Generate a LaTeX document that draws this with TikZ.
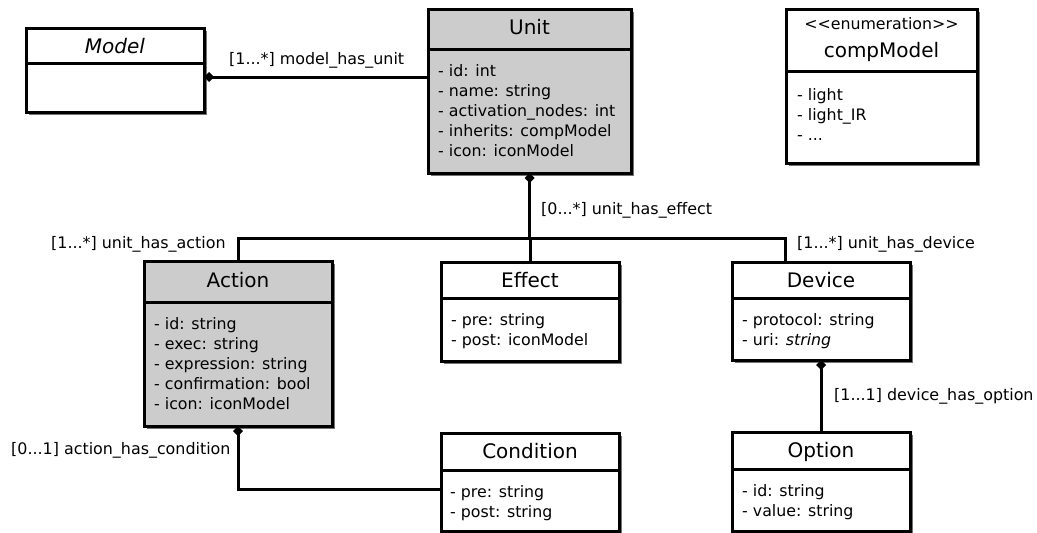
\documentclass[tikz,border=0pt]{standalone}
\usepackage{fontspec}
\setmainfont{DejaVu Sans}
\usetikzlibrary{arrows.meta,shadows,calc}
\newcommand{\attrsize}{\fontsize{15.8}{20}\selectfont}
\newcommand{\lblsize}{\fontsize{15.9}{20}\selectfont}
\newcommand{\titlesize}{\fontsize{20}{24}\selectfont}
\newcommand{\stereosize}{\fontsize{15.8}{18}\selectfont}
% #1 name, #2 x1, #3 y1, #4 x2, #5 y2, #6 separator y, #7 fill
\newcommand{\umlclass}[7]{%
  \node[classbox, fill=#7, minimum width={#4-#2}, minimum height={#5-#3}, anchor=north west] (#1) at (#2,#3) {};
  \draw[boxline] (#2,#6) -- (#4,#6);
}
\tikzset{
  classbox/.style={draw=black, line width=3pt, inner sep=0pt, outer sep=0pt,
    drop shadow={shadow xshift=3pt, shadow yshift=-3pt, fill=black!55, opacity=1}},
  boxline/.style={line width=3pt},
  titletext/.style={font=\titlesize, anchor=base, inner sep=0pt},
  stereotext/.style={font=\stereosize, anchor=base, inner sep=0pt},
  attrtext/.style={font=\attrsize, anchor=north west, align=left, inner sep=0pt},
  conn/.style={line width=3pt},
  comp/.style={{Diamond[length=10pt,width=10pt,line width=0pt]}-},
  lbl/.style={font=\lblsize, anchor=base west, inner sep=0pt},
}
\begin{document}
\begin{tikzpicture}[x=1pt,y=-1pt]
\fill[white] (0,0) rectangle (1037,533);
\useasboundingbox (0,0) rectangle (1037,533);

% Model
\umlclass{model}{26}{28}{204}{112}{63}{white}
\node[titletext] (model-title) at (115,53) {\textit{Model}};

% Unit
\umlclass{unit}{428}{9}{631}{173}{49}{black!20}
\node[titletext] (unit-title) at (529.5,34) {Unit};
\node[attrtext] (unit-attr) at (438,62) {\strut- id: int\\- name: string\\- activation\_nodes: int\\- inherits: compModel\\- icon: iconModel};

% compModel
\umlclass{comp}{786}{9}{977}{163}{71}{white}
\node[stereotext] (comp-stereo) at (881.5,29) {<{}<enumeration>{}>};
\node[titletext] (comp-title) at (881.5,57) {compModel};
\node[attrtext] (comp-attr) at (797,86) {\strut- light\\- light\_IR\\- ...};

% Action
\umlclass{action}{144}{261}{332}{426}{302}{black!20}
\node[titletext] (action-title) at (238,287) {Action};
\node[attrtext] (action-attr) at (154,315) {\strut- id: string\\- exec: string\\- expression: string\\- confirmation: bool\\- icon: iconModel};

% Effect
\umlclass{effect}{441}{262}{619}{361}{298}{white}
\node[titletext] (effect-title) at (530,287) {Effect};
\node[attrtext] (effect-attr) at (451,311) {\strut- pre: string\\- post: iconModel};

% Device
\umlclass{device}{732}{262}{910}{360}{298}{white}
\node[titletext] (device-title) at (821,287) {Device};
\node[attrtext] (device-attr) at (742,311) {\strut- protocol: string\\- uri: \textit{string}};

% Condition
\umlclass{condition}{441}{433}{619}{531}{470}{white}
\node[titletext] (condition-title) at (530,458) {Condition};
\node[attrtext] (condition-attr) at (450,483) {\strut- pre: string\\- post: string};

% Option
\umlclass{option}{732}{432}{910}{531}{469}{white}
\node[titletext] (option-title) at (821,457) {Option};
\node[attrtext] (option-attr) at (742,482) {\strut- id: string\\- value: string};

% connectors
\coordinate (mu) at (204,77);
\draw[conn,comp] (mu) -- (mu -| unit.west);
\coordinate (bus) at (530,238);
\draw[conn,comp] (unit.south) -- (unit.south |- bus);
\coordinate (devin) at (785,262);
\draw[conn] (action.north) |- (bus) -| (devin);
\draw[conn] (effect.north) -- (effect.north |- bus);
\draw[conn,comp] (device.south) -- (option.north);
\coordinate (condin) at (441,489);
\draw[conn,comp] (action.south) |- (condin);

% labels
\node[lbl] (l-mu) at (229,64) {[1...*] model\_has\_unit};
\node[lbl] (l-eff) at (541,214) {[0...*] unit\_has\_effect};
\node[lbl] (l-act) at (51,248) {[1...*] unit\_has\_action};
\node[lbl] (l-dev) at (797,248) {[1...*] unit\_has\_device};
\node[lbl] (l-opt) at (834,400) {[1...1] device\_has\_option};
\node[lbl] (l-cond) at (11,454) {[0...1] action\_has\_condition};
\end{tikzpicture}
\end{document}
